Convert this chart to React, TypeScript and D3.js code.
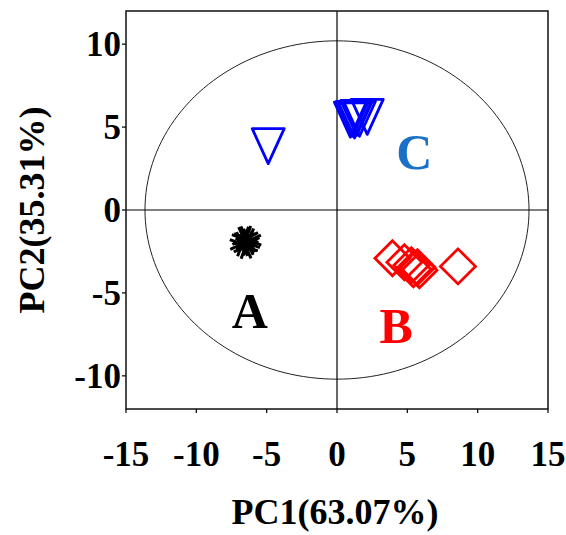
import React from "react";
import * as d3 from "d3";

const W = 566;
const H = 535;
const MARGIN = { top: 11, right: 18, bottom: 126, left: 126 };

const xTicks = [-15, -10, -5, 0, 5, 10, 15];
const yTicks = [-10, -5, 0, 5, 10];

// group A: asterisks
const groupA = [
  [-6.6, -1.75],
  [-6.35, -2.0],
  [-6.5, -2.2],
  [-6.25, -1.85],
  [-6.75, -2.05],
  [-6.45, -1.7],
];
// group B: diamonds
const groupB = [
  [3.94, -2.91],
  [4.79, -3.15],
  [5.29, -3.33],
  [5.72, -3.45],
  [5.86, -3.63],
  [5.43, -3.57],
  [8.6, -3.4],
];
// group C: down triangles
const groupC = [
  [-4.89, 3.85],
  [0.95, 5.45],
  [1.1, 5.5],
  [1.25, 5.4],
  [1.4, 5.55],
  [1.6, 5.5],
  [2.15, 5.62],
];

const groupLabels = [
  { text: "A", x: -6.2, y: -7.1, color: "#000000" },
  { text: "B", x: 4.2, y: -8.0, color: "#ff0000" },
  { text: "C", x: 5.5, y: 2.5, color: "#1a72c8" },
];

const ellipse = { rx: 13.65, ry: 10.2 };

const FONT = "'Liberation Serif', 'Times New Roman', serif";

export default function App() {
  const x = d3.scaleLinear().domain([-15, 15]).range([MARGIN.left, W - MARGIN.right]);
  const y = d3.scaleLinear().domain([-12, 12]).range([H - MARGIN.bottom, MARGIN.top]);
  const [x0, x1] = x.range();
  const [y0, y1] = y.range();

  const ellipsePath = d3.line()(
    d3.range(0, 361, 2).map((a) => {
      const t = (a * Math.PI) / 180;
      return [x(ellipse.rx * Math.cos(t)), y(ellipse.ry * Math.sin(t))];
    })
  );

  const star = (cx: number, cy: number, i: number) => {
    const r = 13;
    return (
      <g key={"a" + i} stroke="#000" strokeWidth={3}>
        {d3.range(4).map((k) => {
          const t = (k * Math.PI) / 4 + 0.35;
          return (
            <line key={k} x1={cx - r * Math.cos(t)} y1={cy - r * Math.sin(t)} x2={cx + r * Math.cos(t)} y2={cy + r * Math.sin(t)} />
          );
        })}
      </g>
    );
  };

  return (
    <svg width={W} height={H} style={{ position: "absolute", left: 0, top: 0 }} fontFamily={FONT} fontWeight="bold">
      <rect x={0} y={0} width={W} height={H} fill="#fff" />
      <path d={ellipsePath || ""} fill="none" stroke="#222" strokeWidth={1} />
      <line x1={x(0)} x2={x(0)} y1={y1} y2={y0} stroke="#000" strokeWidth={1.2} />
      <line x1={x0} x2={x1} y1={y(0)} y2={y(0)} stroke="#000" strokeWidth={1.2} />
      <rect x={x0} y={y1} width={x1 - x0} height={y0 - y1} fill="none" stroke="#111" strokeWidth={1.5} />

      {xTicks.map((t) => (
        <g key={"x" + t}>
          <line x1={x(t)} x2={x(t)} y1={y0} y2={y0 + 4} stroke="#111" strokeWidth={1.3} />
          <text x={x(t)} y={y0 + 57} textAnchor="middle" fontSize={35}>
            {t}
          </text>
        </g>
      ))}
      {yTicks.map((t) => (
        <g key={"y" + t}>
          <line x1={x0 - 4} x2={x0} y1={y(t)} y2={y(t)} stroke="#111" strokeWidth={1.3} />
          <text x={x0 - 5} y={y(t)} dy="0.35em" textAnchor="end" fontSize={35}>
            {t}
          </text>
        </g>
      ))}

      {groupA.map((d, i) => star(x(d[0]), y(d[1]), i))}

      {groupB.map((d, i) => {
        const cx = x(d[0]);
        const cy = y(d[1]);
        const r = 17.5;
        return (
          <path
            key={"b" + i}
            d={`M${cx},${cy - r}L${cx + r},${cy}L${cx},${cy + r}L${cx - r},${cy}Z`}
            fill="none"
            stroke="#ff0000"
            strokeWidth={2.8}
          />
        );
      })}

      {groupC.map((d, i) => {
        const cx = x(d[0]);
        const cy = y(d[1]);
        return (
          <path
            key={"c" + i}
            d={`M${cx - 16},${cy - 17.5}L${cx + 16},${cy - 17.5}L${cx},${cy + 17.5}Z`}
            fill="none"
            stroke="#0000ff"
            strokeWidth={2.8}
            strokeLinejoin="round"
          />
        );
      })}

      {groupLabels.map((g) => (
        <text key={g.text} x={x(g.x)} y={y(g.y)} textAnchor="middle" fontSize={50} fill={g.color}>
          {g.text}
        </text>
      ))}

      <text x={(x0 + x1) / 2 - 2} y={524} textAnchor="middle" fontSize={36}>
        PC1(63.07%)
      </text>
      <text transform={`translate(44,${(y0 + y1) / 2}) rotate(-90)`} textAnchor="middle" fontSize={36}>
        PC2(35.31%)
      </text>
    </svg>
  );
}
